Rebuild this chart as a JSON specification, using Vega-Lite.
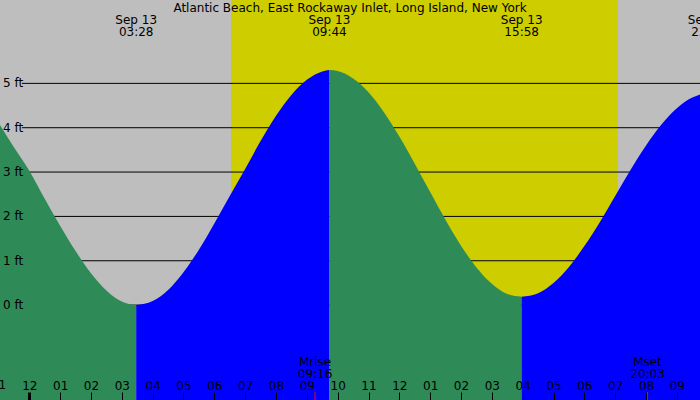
{
  "$schema": "https://vega.github.io/schema/vega-lite/v6.json",
  "width": 700,
  "height": 400,
  "autosize": {"type": "none"},
  "padding": 0,
  "background": "#BEBEBE",
  "view": {"fill": "#BEBEBE", "stroke": null},
  "datasets": {
    "heading": [{"h": 10.4, "label": "Atlantic Beach, East Rockaway Inlet, Long Island, New York"}],
    "sun": [{"h": 6.54, "h2": 19.08}],
    "edge": [{"h": -1, "label": "11"}],
    "grid": [
      {"ft": 0, "label": "0 ft"},
      {"ft": 1, "label": "1 ft"},
      {"ft": 2, "label": "2 ft"},
      {"ft": 3, "label": "3 ft"},
      {"ft": 4, "label": "4 ft"},
      {"ft": 5, "label": "5 ft"}
    ],
    "tide": [
      {"h": -0.95, "ft": 4.06, "phase": "falling", "seg": 1},
      {"h": -0.5, "ft": 3.56, "phase": "falling", "seg": 1},
      {"h": 0, "ft": 3.03, "phase": "falling", "seg": 1},
      {"h": 0.5, "ft": 2.4, "phase": "falling", "seg": 1},
      {"h": 1, "ft": 1.79, "phase": "falling", "seg": 1},
      {"h": 1.5, "ft": 1.22, "phase": "falling", "seg": 1},
      {"h": 2, "ft": 0.72, "phase": "falling", "seg": 1},
      {"h": 2.5, "ft": 0.33, "phase": "falling", "seg": 1},
      {"h": 3, "ft": 0.08, "phase": "falling", "seg": 1},
      {"h": 3.467, "ft": 0.0, "phase": "falling", "seg": 1},
      {"h": 3.467, "ft": 0.0, "phase": "rising", "seg": 2},
      {"h": 4, "ft": 0.09, "phase": "rising", "seg": 2},
      {"h": 4.5, "ft": 0.34, "phase": "rising", "seg": 2},
      {"h": 5, "ft": 0.74, "phase": "rising", "seg": 2},
      {"h": 5.5, "ft": 1.25, "phase": "rising", "seg": 2},
      {"h": 6, "ft": 1.84, "phase": "rising", "seg": 2},
      {"h": 6.5, "ft": 2.46, "phase": "rising", "seg": 2},
      {"h": 7, "ft": 3.07, "phase": "rising", "seg": 2},
      {"h": 7.5, "ft": 3.7, "phase": "rising", "seg": 2},
      {"h": 8, "ft": 4.27, "phase": "rising", "seg": 2},
      {"h": 8.5, "ft": 4.74, "phase": "rising", "seg": 2},
      {"h": 9, "ft": 5.08, "phase": "rising", "seg": 2},
      {"h": 9.5, "ft": 5.27, "phase": "rising", "seg": 2},
      {"h": 9.733, "ft": 5.3, "phase": "rising", "seg": 2},
      {"h": 9.733, "ft": 5.3, "phase": "falling", "seg": 3},
      {"h": 10, "ft": 5.28, "phase": "falling", "seg": 3},
      {"h": 10.5, "ft": 5.11, "phase": "falling", "seg": 3},
      {"h": 11, "ft": 4.8, "phase": "falling", "seg": 3},
      {"h": 11.5, "ft": 4.35, "phase": "falling", "seg": 3},
      {"h": 12, "ft": 3.8, "phase": "falling", "seg": 3},
      {"h": 12.5, "ft": 3.19, "phase": "falling", "seg": 3},
      {"h": 13, "ft": 2.55, "phase": "falling", "seg": 3},
      {"h": 13.5, "ft": 1.92, "phase": "falling", "seg": 3},
      {"h": 14, "ft": 1.34, "phase": "falling", "seg": 3},
      {"h": 14.5, "ft": 0.85, "phase": "falling", "seg": 3},
      {"h": 15, "ft": 0.48, "phase": "falling", "seg": 3},
      {"h": 15.5, "ft": 0.25, "phase": "falling", "seg": 3},
      {"h": 15.967, "ft": 0.19, "phase": "falling", "seg": 3},
      {"h": 15.967, "ft": 0.19, "phase": "rising", "seg": 4},
      {"h": 16.5, "ft": 0.27, "phase": "rising", "seg": 4},
      {"h": 17, "ft": 0.5, "phase": "rising", "seg": 4},
      {"h": 17.5, "ft": 0.86, "phase": "rising", "seg": 4},
      {"h": 18, "ft": 1.33, "phase": "rising", "seg": 4},
      {"h": 18.5, "ft": 1.87, "phase": "rising", "seg": 4},
      {"h": 19, "ft": 2.46, "phase": "rising", "seg": 4},
      {"h": 19.5, "ft": 3.05, "phase": "rising", "seg": 4},
      {"h": 20, "ft": 3.6, "phase": "rising", "seg": 4},
      {"h": 20.5, "ft": 4.07, "phase": "rising", "seg": 4},
      {"h": 21, "ft": 4.44, "phase": "rising", "seg": 4},
      {"h": 21.5, "ft": 4.68, "phase": "rising", "seg": 4},
      {"h": 21.75, "ft": 4.75, "phase": "rising", "seg": 4}
    ],
    "events": [
      {"h": 3.467, "label": "Sep 13\n03:28"},
      {"h": 9.733, "label": "Sep 13\n09:44"},
      {"h": 15.967, "label": "Sep 13\n15:58"},
      {"h": 22.03, "label": "Sep 13\n22:02"}
    ],
    "moon": [
      {"h": 9.267, "label": "Mrise\n09:16"},
      {"h": 20.05, "label": "Mset\n20:03"}
    ]
  },
  "layer": [
    {
      "data": {"name": "sun"},
      "mark": {"type": "rect", "color": "#CDCD00"},
      "encoding": {
        "x": {
          "field": "h",
          "type": "quantitative",
          "scale": {"domain": [-0.95, 21.75], "nice": false, "zero": false},
          "axis": {
            "title": null,
            "orient": "bottom",
            "zindex": 1,
            "offset": -8,
            "values": [0, 1, 2, 3, 4, 5, 6, 7, 8, 9, 10, 11, 12, 13, 14, 15, 16, 17, 18, 19, 20, 21],
            "tickCount": 40,
            "labelExpr": "(((datum.value % 12) + 12) % 12 == 0) ? '12' : (((((datum.value % 12) + 12) % 12) < 10) ? '0' : '') + (((datum.value % 12) + 12) % 12)",
            "domain": false,
            "grid": false,
            "tickSize": 8,
            "tickColor": "#000000",
            "tickWidth": {"condition": {"test": "datum.value === 0", "value": 3}, "value": 1},
            "labelPadding": -11,
            "labelBaseline": "alphabetic",
            "labelFont": "DejaVu Sans",
            "labelFontSize": 12,
            "labelColor": "#000000",
            "labelFlush": false,
            "labelOverlap": false,
            "labelBound": false
          }
        },
        "x2": {"field": "h2"}
      }
    },
    {
      "data": {"name": "grid"},
      "mark": {"type": "rule", "color": "#000000", "strokeWidth": 1},
      "encoding": {
        "x": {"datum": -0.24, "type": "quantitative"},
        "x2": {"datum": 21.75},
        "y": {
          "field": "ft",
          "type": "quantitative",
          "scale": {"domain": [-2.14, 6.88], "nice": false, "zero": false},
          "axis": null
        }
      }
    },
    {
      "data": {"name": "tide"},
      "mark": {"type": "area", "interpolate": "monotone", "opacity": 1},
      "encoding": {
        "x": {"field": "h", "type": "quantitative"},
        "y": {"field": "ft", "type": "quantitative", "axis": null, "stack": null},
        "y2": {"datum": -2.14},
        "color": {
          "field": "phase",
          "type": "nominal",
          "scale": {"domain": ["falling", "rising"], "range": ["#2E8B57", "#0000FF"]},
          "legend": null
        },
        "detail": {"field": "seg"}
      }
    },
    {
      "data": {"name": "grid"},
      "mark": {"type": "text", "align": "left", "baseline": "middle", "dx": 3, "font": "DejaVu Sans", "fontSize": 12, "color": "#000000"},
      "encoding": {
        "x": {"datum": -0.95, "type": "quantitative"},
        "y": {"field": "ft", "type": "quantitative", "axis": null},
        "text": {"field": "label"}
      }
    },
    {
      "data": {"name": "edge"},
      "mark": {"type": "text", "align": "center", "baseline": "alphabetic", "font": "DejaVu Sans", "fontSize": 12, "color": "#000000"},
      "encoding": {
        "x": {"field": "h", "type": "quantitative"},
        "y": {"datum": -1.89, "type": "quantitative", "axis": null},
        "text": {"field": "label"}
      }
    },
    {
      "data": {"name": "heading"},
      "mark": {"type": "text", "align": "center", "baseline": "alphabetic", "font": "DejaVu Sans", "fontSize": 12, "color": "#000000"},
      "encoding": {
        "x": {"field": "h", "type": "quantitative"},
        "y": {"datum": 6.61, "type": "quantitative", "axis": null},
        "text": {"field": "label"}
      }
    },
    {
      "data": {"name": "events"},
      "mark": {"type": "text", "align": "center", "baseline": "alphabetic", "lineBreak": "\n", "lineHeight": 12, "font": "DejaVu Sans", "fontSize": 12, "color": "#000000"},
      "encoding": {
        "x": {"field": "h", "type": "quantitative"},
        "y": {"datum": 6.33, "type": "quantitative", "axis": null},
        "text": {"field": "label"}
      }
    },
    {
      "data": {"name": "moon"},
      "mark": {"type": "rule", "color": "#FF0000", "strokeWidth": 1},
      "encoding": {
        "x": {"field": "h", "type": "quantitative"},
        "y": {"datum": -2.14, "type": "quantitative", "axis": null},
        "y2": {"datum": -1.96}
      }
    },
    {
      "data": {"name": "moon"},
      "mark": {"type": "text", "align": "center", "baseline": "alphabetic", "lineBreak": "\n", "lineHeight": 12, "font": "DejaVu Sans", "fontSize": 12, "color": "#000000"},
      "encoding": {
        "x": {"field": "h", "type": "quantitative"},
        "y": {"datum": -1.38, "type": "quantitative", "axis": null},
        "text": {"field": "label"}
      }
    }
  ]
}
